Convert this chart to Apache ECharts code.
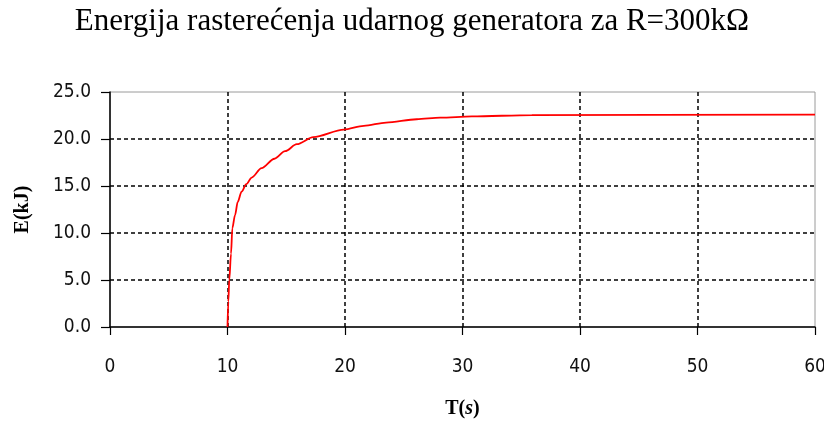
<!DOCTYPE html>
<html>
<head>
<meta charset="utf-8">
<script src="https://cdn.jsdelivr.net/npm/echarts@6/dist/echarts.min.js"></script>
<style>html,body{margin:0;padding:0;background:#fff}#c{width:824px;height:423px}</style>
</head>
<body>
<div id="c"></div>
<script>
var titleText = 'Energija rasterećenja udarnog generatora za R=300kΩ';
var timeS = [10, 10.07, 10.15, 10.3, 10.41, 10.64, 10.87, 11.2, 11.6, 12.06, 12.9, 14.0, 14.9, 15.9, 17.3, 19.9, 21.6, 23.5, 26.1, 28.1, 30.8, 35.9, 60];
var energyKJ = [0, 2.7, 5.0, 7.8, 10.5, 11.9, 13.3, 14.4, 15.2, 15.9, 16.9, 17.9, 18.7, 19.45, 20.2, 21.0, 21.4, 21.75, 22.1, 22.27, 22.4, 22.55, 22.6];
var xTicks = [0, 10, 20, 30, 40, 50, 60];
var yTicks = [0, 5, 10, 15, 20, 25];

var pts = timeS.map(function (t, i) { return [t, energyKJ[i]]; });
var chart = echarts.init(document.getElementById('c'));
var dash = { color: '#000', width: 1.5, type: [4, 3] };
chart.setOption({
  animation: false,
  backgroundColor: '#fff',
  title: {
    text: titleText, left: 'center', top: 1,
    textStyle: { fontFamily: 'Liberation Serif', fontWeight: 'normal', fontSize: 31, color: '#000' }
  },
  grid: { left: 110, right: 9, top: 92, bottom: 96, show: true, borderColor: '#9a9a9a', borderWidth: 1,
    containLabel: false, outerBoundsMode: 'none' },
  xAxis: {
    type: 'value', min: xTicks[0], max: xTicks[xTicks.length - 1], interval: 10,
    name: '{b|T}{b|(}{i|s}{b|)}', nameLocation: 'middle', nameGap: 72,
    nameTextStyle: { rich: {
      b: { fontFamily: 'Liberation Serif', fontWeight: 'bold', fontSize: 20, color: '#000' },
      i: { fontFamily: 'Liberation Serif', fontWeight: 'bold', fontStyle: 'italic', fontSize: 20, color: '#000' }
    } },
    axisLine: { show: true, lineStyle: { color: '#000', width: 1.5 } },
    axisTick: { show: true, length: 8, lineStyle: { color: '#000', width: 1.2 } },
    axisLabel: { margin: 31, fontFamily: 'DejaVu Sans Condensed', fontSize: 19, color: '#111' },
    splitLine: { show: true, showMinLine: false, showMaxLine: false, lineStyle: dash }
  },
  yAxis: {
    type: 'value', min: yTicks[0], max: yTicks[yTicks.length - 1], interval: 5,
    name: 'E(kJ)', nameLocation: 'middle', nameGap: 77,
    nameTextStyle: { fontFamily: 'Liberation Serif', fontWeight: 'bold', fontSize: 20, color: '#000' },
    axisLine: { show: true, lineStyle: { color: '#000', width: 1.5 } },
    axisTick: { show: true, length: 9, lineStyle: { color: '#000', width: 1.2 } },
    axisLabel: { margin: 19, fontFamily: 'DejaVu Sans Condensed', fontSize: 19, color: '#111',
      formatter: function (v) { return v.toFixed(1); } },
    splitLine: { show: true, showMinLine: false, showMaxLine: false, lineStyle: dash }
  },
  series: [{
    type: 'line', data: pts, showSymbol: false, smooth: 0.3, smoothMonotone: 'x',
    lineStyle: { color: '#ff0000', width: 1.8 }
  }]
});
</script>
</body>
</html>
